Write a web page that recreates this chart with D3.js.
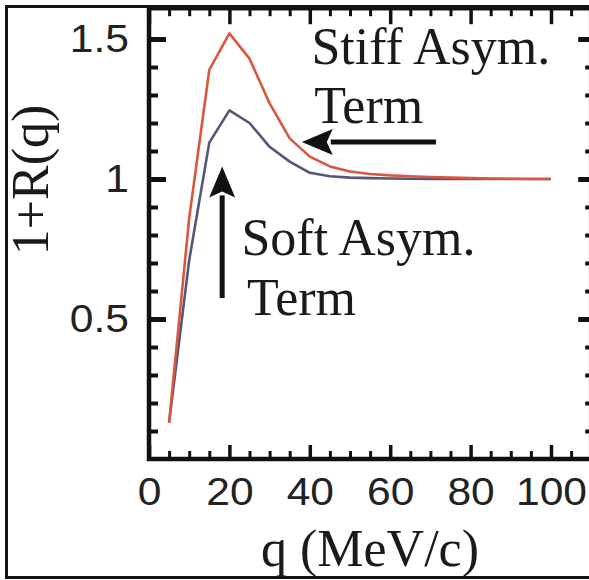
<!DOCTYPE html>
<head>
<meta charset="utf-8">
<title>1+R(q)</title>
<script src="https://d3js.org/d3.v7.min.js"></script>
<style>
  body { margin: 0; background: #fff; }
  svg { display: block; }
</style>
</head>
<body>
<div id="container"></div>
<script>
    //---------------------------- DATA ----------------------------//
    const qValues = [5, 10, 15, 20, 25, 30, 35, 40, 45, 50, 55, 60, 65, 70, 75, 80, 85, 90, 95, 100];
    const stiffTerm = [0.13, 0.86, 1.39, 1.52, 1.43, 1.27, 1.145, 1.08, 1.045, 1.027, 1.018, 1.013, 1.01, 1.007, 1.005, 1.003, 1.002, 1.001, 1.0, 1.0];
    const softTerm = [0.13, 0.71, 1.13, 1.245, 1.20, 1.115, 1.062, 1.022, 1.01, 1.005, 1.003, 1.002, 1.001, 1.0, 1.0, 1.0, 1.0, 1.0, 1.0, 1.0];
    const xMajor = [0, 20, 40, 60, 80, 100];
    const xMinor = [5, 10, 15, 25, 30, 35, 45, 50, 55, 65, 70, 75, 85, 90, 95, 105];
    const yMajor = [0.5, 1, 1.5];
    const yMinor = [0.1, 0.2, 0.3, 0.4, 0.6, 0.7, 0.8, 0.9, 1.1, 1.2, 1.3, 1.4];

    //---------------------------- SVG -----------------------------//
    const width = 589, height = 580;
    const svg = d3.select("#container").append("svg")
        .attr("width", width)
        .attr("height", height);

    // outer frame round the whole figure
    svg.append("rect")
        .attr("x", 6.5).attr("y", 6.5)
        .attr("width", 600).attr("height", 571)
        .attr("fill", "none").attr("stroke", "#111").attr("stroke-width", 3);

    //--------------------------- SCALES ---------------------------//
    const x = d3.scaleLinear().domain([0, 110]).range([149, 149 + 4.02 * 110]);
    const y = d3.scaleLinear().domain([0, 1.61]).range([459, 459 - 1.61 * 280]);
    const plotLeft = x(0), plotRight = x(110), plotBottom = y(0), plotTop = y(1.61);
    const sx = 1.12; // tick labels are a touch wider than Arial

    //---------------------------- AXES ----------------------------//
    function styleAxis(g, w) {
        g.select(".domain").remove();
        g.selectAll(".tick line").attr("stroke", "#111").attr("stroke-width", w);
        g.selectAll(".tick text")
            .attr("fill", "#222")
            .style("font-family", "'Liberation Sans', Arial, sans-serif")
            .style("font-size", "38px");
    }

    // left
    svg.append("g").attr("transform", `translate(${plotLeft},0)`)
        .call(d3.axisLeft(y).tickValues(yMajor).tickSizeInner(-17).tickSizeOuter(0).tickPadding(20)
            .tickFormat(d => d))
        .call(g => styleAxis(g, 5))
        .call(g => g.selectAll(".tick text").attr("x", -20 / sx).attr("transform", `scale(${sx},1)`));
    svg.append("g").attr("transform", `translate(${plotLeft},0)`)
        .call(d3.axisLeft(y).tickValues(yMinor).tickSizeInner(-9).tickSizeOuter(0).tickFormat(""))
        .call(g => styleAxis(g, 4));

    // right
    svg.append("g").attr("transform", `translate(${plotRight},0)`)
        .call(d3.axisRight(y).tickValues(yMajor).tickSizeInner(-13).tickSizeOuter(0).tickFormat(""))
        .call(g => styleAxis(g, 5));
    svg.append("g").attr("transform", `translate(${plotRight},0)`)
        .call(d3.axisRight(y).tickValues(yMinor).tickSizeInner(-6).tickSizeOuter(0).tickFormat(""))
        .call(g => styleAxis(g, 4));

    // bottom
    svg.append("g").attr("transform", `translate(0,${plotBottom})`)
        .call(d3.axisBottom(x).tickValues(xMajor).tickSizeInner(-14).tickSizeOuter(0).tickPadding(19))
        .call(g => styleAxis(g, 3.5))
        .call(g => g.selectAll(".tick text").attr("transform", `scale(${sx},1)`));
    svg.append("g").attr("transform", `translate(0,${plotBottom})`)
        .call(d3.axisBottom(x).tickValues(xMinor).tickSizeInner(-8).tickSizeOuter(0).tickFormat(""))
        .call(g => styleAxis(g, 3));

    // top
    svg.append("g").attr("transform", `translate(0,${plotTop})`)
        .call(d3.axisTop(x).tickValues(xMajor).tickSizeInner(-16).tickSizeOuter(0).tickFormat(""))
        .call(g => styleAxis(g, 3.5));
    svg.append("g").attr("transform", `translate(0,${plotTop})`)
        .call(d3.axisTop(x).tickValues(xMinor).tickSizeInner(-8).tickSizeOuter(0).tickFormat(""))
        .call(g => styleAxis(g, 3));

    // plot frame
    svg.append("rect")
        .attr("x", plotLeft).attr("y", plotTop)
        .attr("width", plotRight - plotLeft).attr("height", plotBottom - plotTop)
        .attr("fill", "none").attr("stroke", "#111").attr("stroke-width", 4.5);

    //--------------------------- LINES ----------------------------//
    const series = [
        { name: "stiff", color: "#d8573f", values: stiffTerm },
        { name: "soft", color: "#55557a", values: softTerm }
    ];
    const line = d3.line()
        .x((d, i) => x(qValues[i]))
        .y(d => y(d));

    svg.selectAll(".curve")
        .data(series.slice().reverse())
        .enter().append("path")
        .attr("class", "curve")
        .attr("d", d => line(d.values))
        .attr("fill", "none")
        .attr("stroke", d => d.color)
        .attr("stroke-width", 2.6)
        .attr("stroke-linejoin", "round");

    //------------------------ ANNOTATIONS -------------------------//
    const serif = "'Liberation Serif', 'Times New Roman', serif";
    const labels = [
        { text: "Stiff Asym.", q: 40.4, v: 1.411 },
        { text: "Term", q: 41.1, v: 1.2 },
        { text: "Soft Asym.", q: 23.0, v: 0.729 },
        { text: "Term", q: 24.4, v: 0.514 }
    ];
    svg.selectAll(".note")
        .data(labels)
        .enter().append("text")
        .attr("class", "note")
        .attr("x", d => x(d.q))
        .attr("y", d => y(d.v))
        .style("font-family", serif)
        .style("font-size", "52px")
        .attr("fill", "#1a1a1a")
        .text(d => d.text);

    // arrows: tail -> tip in data units
    const arrows = [
        { from: [71.4, 1.132], to: [38.0, 1.132] },
        { from: [18.2, 0.575], to: [18.2, 1.045] }
    ];
    arrows.forEach(a => {
        const x0 = x(a.from[0]), y0 = y(a.from[1]);
        const x1 = x(a.to[0]), y1 = y(a.to[1]);
        const len = Math.hypot(x1 - x0, y1 - y0);
        const ux = (x1 - x0) / len, uy = (y1 - y0) / len;
        const headLen = 31, headHalf = 13;
        const bx = x1 - ux * headLen, by = y1 - uy * headLen;
        svg.append("line")
            .attr("x1", x0).attr("y1", y0)
            .attr("x2", bx + ux * 2).attr("y2", by + uy * 2)
            .attr("stroke", "#111").attr("stroke-width", 5);
        svg.append("path")
            .attr("d", `M${x1},${y1}L${bx - uy * headHalf},${by + ux * headHalf}` +
                `L${bx + ux * 6},${by + uy * 6}L${bx + uy * headHalf},${by - ux * headHalf}Z`)
            .attr("fill", "#111");
    });

    //------------------------ AXIS TITLES -------------------------//
    svg.append("text")
        .attr("x", 370).attr("y", 566)
        .attr("text-anchor", "middle")
        .style("font-family", serif)
        .style("font-size", "52px")
        .attr("fill", "#1a1a1a")
        .text("q (MeV/c)");

    svg.append("text")
        .attr("transform", "translate(48,180) rotate(-90)")
        .attr("text-anchor", "middle")
        .style("font-family", serif)
        .style("font-size", "52px")
        .attr("fill", "#1a1a1a")
        .text("1+R(q)");
</script>
</body>
